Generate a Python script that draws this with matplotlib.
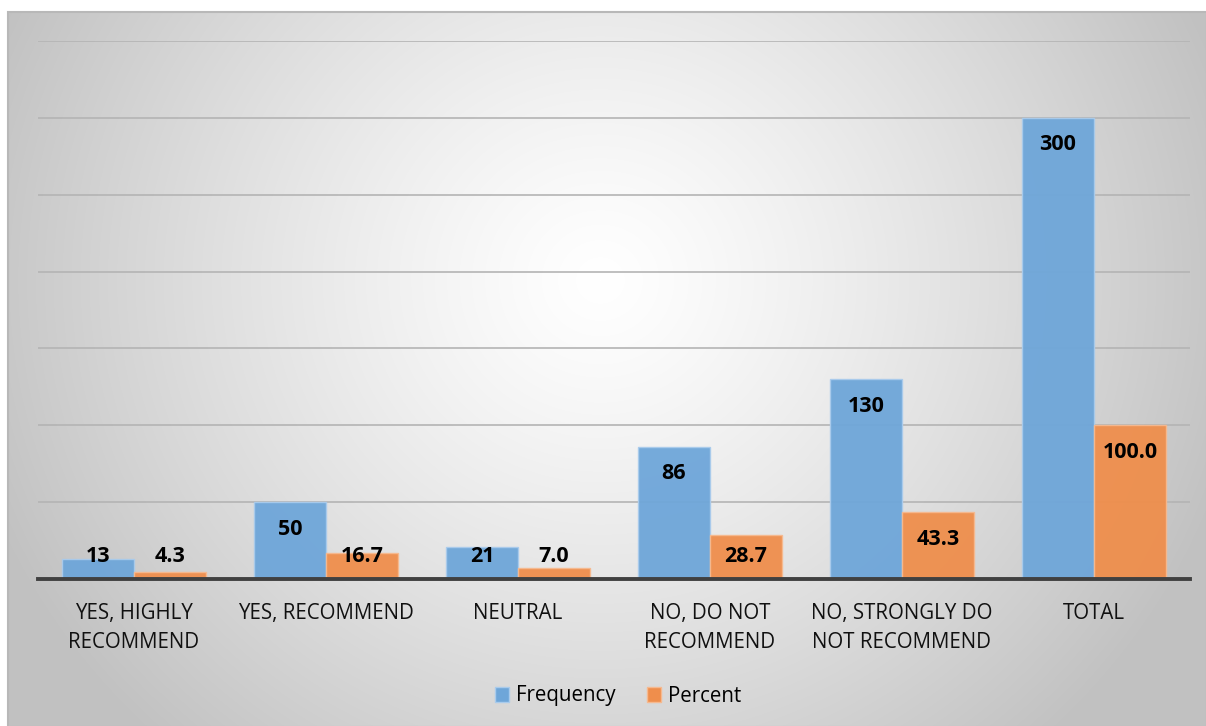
import numpy as np
import matplotlib
matplotlib.use("Agg")
import matplotlib.pyplot as plt
from matplotlib.patches import Patch, Rectangle

categories = ["YES, HIGHLY\nRECOMMEND", "YES, RECOMMEND", "NEUTRAL",
              "NO, DO NOT\nRECOMMEND", "NO, STRONGLY DO\nNOT RECOMMEND", "TOTAL"]
frequency = [13, 50, 21, 86, 130, 300]
percent = [4.3, 16.7, 7.0, 28.7, 43.3, 100.0]
freq_labels = ["13", "50", "21", "86", "130", "300"]
pct_labels = ["4.3", "16.7", "7.0", "28.7", "43.3", "100.0"]

plt.rcParams["font.family"] = ["Open Sans", "DejaVu Sans"]

W, H = 1206, 726
fig = plt.figure(figsize=(W / 100, H / 100), dpi=100)
fig.patch.set_facecolor("white")

# radial grey-to-white backdrop of the chart box
bg = fig.add_axes([0, 0, 1, 1], zorder=-5)
bg.set_xlim(0, W)
bg.set_ylim(H, 0)
bg.axis("off")
x0, y0 = 7, 11
xs = np.arange(x0, W)
ys = np.arange(y0, H)
X, Y = np.meshgrid(xs, ys)
d = np.sqrt((X - 600) ** 2 + ((Y - 280) * 1.05) ** 2)
v = 255 - 62 * np.clip(d / 660, 0, 1) ** 1.25
img = np.dstack([v, v, v]) / 255.0
bg.imshow(img, extent=(x0, W, H, y0), interpolation="bilinear", aspect="auto")
bg.add_patch(Rectangle((x0 + 0.5, y0 + 0.5), W - x0, H - y0, fill=False,
                       edgecolor="#b8b8b8", lw=1.5))

ax = fig.add_axes([38 / W, 1 - 579 / H, (1190 - 38) / W, (579 - 41) / H])
ax.set_facecolor("none")

x = np.arange(len(categories))
bw = 0.375
blue = "#6ea6d9"
orange = "#ef8e4c"
ax.bar(x - bw / 2, frequency, bw, color=blue, edgecolor="#a9cbec", lw=1, zorder=3, alpha=0.95)
ax.bar(x + bw / 2, percent, bw, color=orange, edgecolor="#f6b98f", lw=1, zorder=3, alpha=0.95)

ax.set_xlim(-0.5, len(categories) - 0.5)
ax.set_ylim(0, 350)
ax.set_yticks(np.arange(50, 351, 50))
ax.yaxis.grid(True, color="#b4b4b4", lw=1.2, zorder=1)
ax.set_axisbelow(True)
ax.tick_params(axis="y", length=0, labelleft=False)
ax.tick_params(axis="x", length=0, pad=17)
ax.set_xticks(x)
ax.set_xticklabels(categories, fontsize=14.8, color="#111111", linespacing=1.55)
for s in ["left", "right", "top"]:
    ax.spines[s].set_visible(False)
ax.spines["bottom"].set_color("#404040")
ax.spines["bottom"].set_linewidth(2.8)
ax.spines["bottom"].set_zorder(5)

for xi, val, lab in zip(x - bw / 2, frequency, freq_labels):
    ax.text(xi, max(val - 17.6, 14.5), lab, ha="center", va="center",
            fontsize=15.5, fontweight="bold", color="black", zorder=6)
for xi, val, lab in zip(x + bw / 2, percent, pct_labels):
    ax.text(xi, max(val - 17.6, 14.5), lab, ha="center", va="center",
            fontsize=15.5, fontweight="bold", color="black", zorder=6)

handles = [Patch(facecolor=blue, edgecolor="#a9cbec", label="Frequency"),
           Patch(facecolor=orange, edgecolor="#f6b98f", label="Percent")]
fig.legend(handles=handles, loc="center", bbox_to_anchor=(618 / W, 1 - 696 / H),
           ncol=2, frameon=False, fontsize=14.8, handlelength=0.7, handleheight=0.7,
           handletextpad=0.35, columnspacing=1.5)

fig.savefig("out.png", dpi=100)
